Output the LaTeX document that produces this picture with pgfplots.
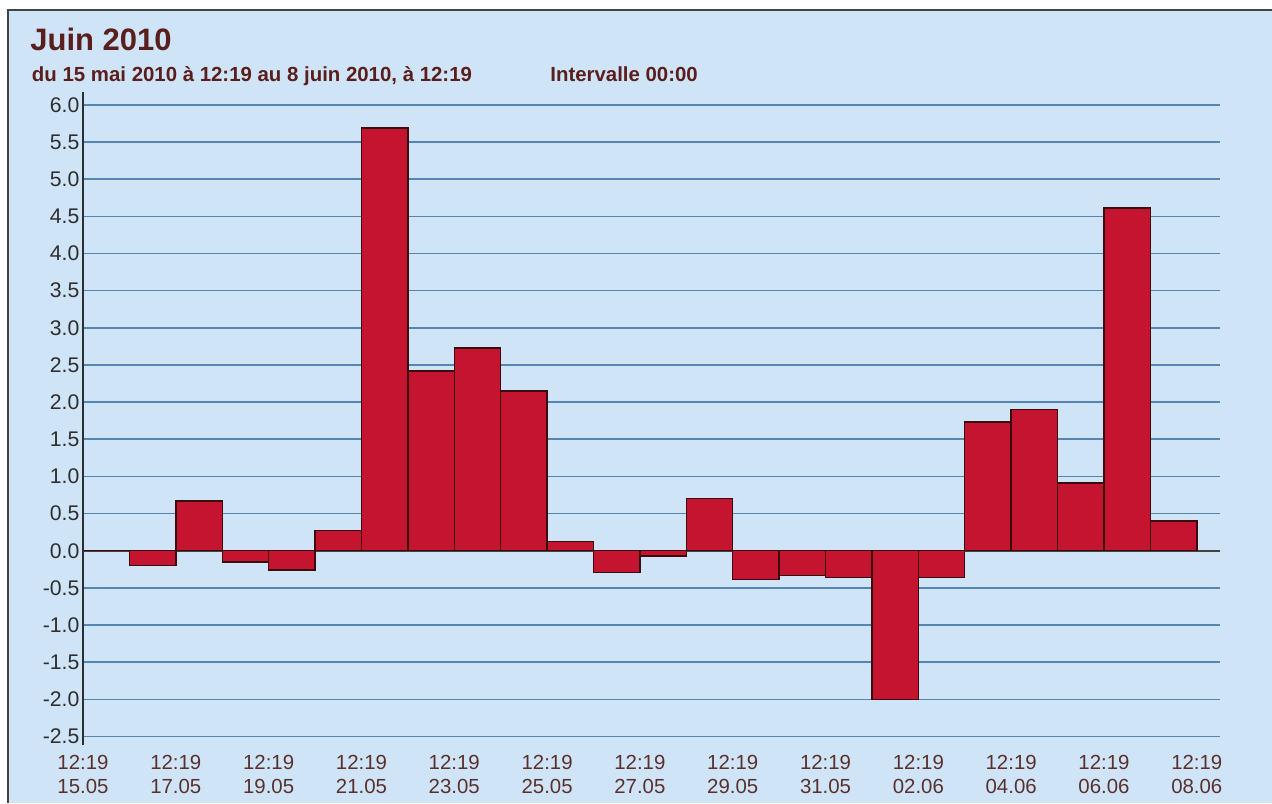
\documentclass[border=0pt]{standalone}
\usepackage{pgfplots}
\pgfplotsset{compat=1.18}
\usepackage{fontspec}
\setmainfont{Liberation Sans}
\definecolor{bgblue}{HTML}{CFE5F7}
\definecolor{gridblue}{HTML}{5784B0}
\definecolor{barred}{HTML}{C5142F}
\definecolor{baredge}{HTML}{3A0C0E}
\definecolor{titlered}{HTML}{5A1E1C}
\definecolor{xlab}{HTML}{5A302C}
\definecolor{ylab}{HTML}{2E2E2E}
\begin{document}
\begin{tikzpicture}
\path[use as bounding box] (0,0) rectangle (636pt,401.5pt);
\fill[white] (0,0) rectangle (636pt,401.5pt);
\fill[bgblue] (4.15pt,0) rectangle (636pt,396.5pt);
\draw[line width=1pt, color=ylab!90] (4.15pt,0) -- (4.15pt,396.5pt) -- (636pt,396.5pt);
\node[anchor=base west, inner sep=0pt, text=titlered, font=\fontsize{15.5pt}{18pt}\selectfont\bfseries] at (15pt,376.2pt) {Juin 2010};
\node[anchor=base west, inner sep=0pt, text=titlered, font=\fontsize{10.2pt}{12pt}\selectfont\bfseries] at (15.8pt,360.6pt) {du 15 mai 2010 à 12:19 au 8 juin 2010, à 12:19};
\node[anchor=base west, inner sep=0pt, text=titlered, font=\fontsize{10.2pt}{12pt}\selectfont\bfseries] at (275pt,360.6pt) {Intervalle 00:00};
\begin{axis}[
  at={(41.5pt,29pt)}, anchor=south west,
  scale only axis, width=568.5pt, height=326.5pt,
  xmin=0, xmax=24.5, ymin=-2.615, ymax=6.174,
  axis x line*=bottom,
  x axis line style={draw=none},
  axis y line*=left,
  y axis line style={draw=ylab, line width=0.8pt},
  major tick length=0pt,
  ytick={-2.5,-2,-1.5,-1,-0.5,0,0.5,1,1.5,2,2.5,3,3.5,4,4.5,5,5.5,6},
  yticklabels={-2.5,-2.0,-1.5,-1.0,-0.5,0.0,0.5,1.0,1.5,2.0,2.5,3.0,3.5,4.0,4.5,5.0,5.5,6.0},
  yticklabel style={inner sep=0pt, xshift=-1.6pt, text=ylab, font=\fontsize{10.6pt}{12pt}\selectfont},
  ymajorgrids, grid style={draw=gridblue, line width=0.8pt},
  xtick={0,2,4,6,8,10,12,14,16,18,20,22,24},
  xticklabels={12:19\\15.05,12:19\\17.05,12:19\\19.05,12:19\\21.05,12:19\\23.05,12:19\\25.05,12:19\\27.05,12:19\\29.05,12:19\\31.05,12:19\\02.06,12:19\\04.06,12:19\\06.06,12:19\\08.06},
  xticklabel style={align=center, inner sep=0pt, anchor=north, yshift=-5pt, text=xlab, font=\fontsize{10.2pt}{12pt}\selectfont},
  clip=false,
]
\addplot[draw=ylab!90, line width=0.8pt, no marks] coordinates {(0,0) (24.5,0)};
\addplot[ybar, bar width=1, bar shift=0, fill=barred, draw=baredge, line width=0.7pt] coordinates {
(0.5,0) (1.5,-0.20) (2.5,0.67) (3.5,-0.15) (4.5,-0.26) (5.5,0.27)
(6.5,5.69) (7.5,2.42) (8.5,2.73) (9.5,2.15) (10.5,0.12) (11.5,-0.29)
(12.5,-0.07) (13.5,0.70) (14.5,-0.39) (15.5,-0.33) (16.5,-0.36) (17.5,-2.00)
(18.5,-0.36) (19.5,1.73) (20.5,1.90) (21.5,0.91) (22.5,4.61) (23.5,0.40)
};
\end{axis}
\end{tikzpicture}
\end{document}
